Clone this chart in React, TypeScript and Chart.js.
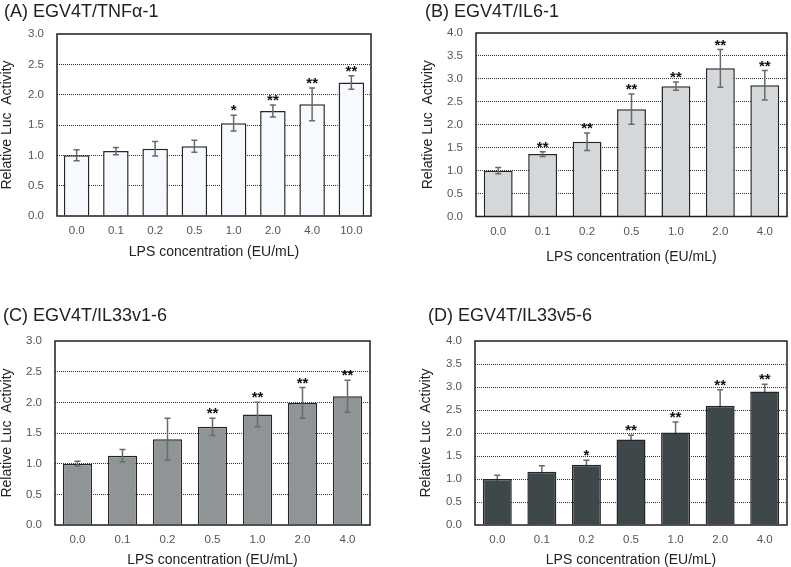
import React, { useEffect, useRef } from "react";
import { Chart, registerables } from "chart.js";

Chart.register(...registerables);

// ---------- data ----------
const doseLabelsA = ["0.0", "0.1", "0.2", "0.5", "1.0", "2.0", "4.0", "10.0"];
const doseLabels = ["0.0", "0.1", "0.2", "0.5", "1.0", "2.0", "4.0"];

const tnfMean = [1.0, 1.07, 1.11, 1.15, 1.53, 1.73, 1.84, 2.2];
const tnfErr = [0.09, 0.06, 0.12, 0.1, 0.13, 0.1, 0.27, 0.11];
const tnfSig = ["", "", "", "", "*", "**", "**", "**"];

const il6Mean = [1.0, 1.36, 1.63, 2.34, 2.84, 3.23, 2.86];
const il6Err = [0.07, 0.05, 0.19, 0.33, 0.09, 0.41, 0.32];
const il6Sig = ["", "**", "**", "**", "**", "**", "**"];

const il33v1Mean = [1.0, 1.13, 1.4, 1.6, 1.8, 1.99, 2.1];
const il33v1Err = [0.04, 0.1, 0.34, 0.14, 0.2, 0.25, 0.26];
const il33v1Sig = ["", "", "", "**", "**", "**", "**"];

const il33v5Mean = [1.0, 1.16, 1.31, 1.86, 2.01, 2.59, 2.9];
const il33v5Err = [0.08, 0.13, 0.1, 0.09, 0.23, 0.35, 0.16];
const il33v5Sig = ["", "", "*", "**", "**", "**", "**"];

const yMaxA = 3;
const yMaxB = 4;
const yMaxC = 3;
const yMaxD = 4;

const xAxisTitle = "LPS concentration (EU/mL)";
const yAxisTitle = "Relative Luc  Activity";

// ---------- layout / style ----------
const FONT = "'Liberation Sans', Arial, Helvetica, sans-serif";

const panels = [
  {
    key: "A", title: "(A) EGV4T/TNF\u03b1-1", labels: doseLabelsA, mean: tnfMean, err: tnfErr, sig: tnfSig,
    yMax: yMaxA, color: "#f6f9fd",
    box: { x: 0, y: 0, w: 395, h: 280 }, area: { l: 57, t: 34, r: 371, b: 216 },
    titlePos: { x: 4, y: 2 }, yTitleX: 7, xTitleY: 252, errBehind: false,
  },
  {
    key: "B", title: "(B) EGV4T/IL6-1", labels: doseLabels, mean: il6Mean, err: il6Err, sig: il6Sig,
    yMax: yMaxB, color: "#d4d8da",
    box: { x: 395, y: 0, w: 396, h: 280 }, area: { l: 476, t: 33, r: 787, b: 216.5 },
    titlePos: { x: 425, y: 2 }, yTitleX: 33, xTitleY: 257, errBehind: false,
  },
  {
    key: "C", title: "(C) EGV4T/IL33v1-6", labels: doseLabels, mean: il33v1Mean, err: il33v1Err, sig: il33v1Sig,
    yMax: yMaxC, color: "#8f9597",
    box: { x: 0, y: 280, w: 395, h: 287 }, area: { l: 55, t: 341, r: 370, b: 525 },
    titlePos: { x: 3, y: 306 }, yTitleX: 7, xTitleY: 560, errBehind: false,
  },
  {
    key: "D", title: "(D) EGV4T/IL33v5-6", labels: doseLabels, mean: il33v5Mean, err: il33v5Err, sig: il33v5Sig,
    yMax: yMaxD, color: "#3e474a",
    box: { x: 395, y: 280, w: 396, h: 287 }, area: { l: 475, t: 341, r: 787, b: 525 },
    titlePos: { x: 428, y: 306 }, yTitleX: 31, xTitleY: 560, errBehind: true,
  },
];

function Panel({ p }: { p: any }) {
  const ref = useRef<HTMLCanvasElement>(null);

  useEffect(() => {
    const cvs = ref.current;
    if (!cvs) return;
    const yAxisW = p.area.l - p.box.x;
    const xAxisH = p.box.y + p.box.h - p.area.b;
    const titleLH = 14 * 1.2;

    const drawErr = (chart: any) => {
      const ctx = chart.ctx;
      const meta = chart.getDatasetMeta(0);
      const ys = chart.scales.y;
      ctx.save();
      ctx.strokeStyle = "#6a6a6a";
      ctx.lineWidth = 1.5;
      meta.data.forEach((el: any, i: number) => {
        const x = el.x;
        const yTop = ys.getPixelForValue(p.mean[i] + p.err[i]);
        const yBot = ys.getPixelForValue(p.mean[i] - p.err[i]);
        ctx.beginPath();
        ctx.moveTo(x, yTop);
        ctx.lineTo(x, yBot);
        ctx.moveTo(x - 3, yTop);
        ctx.lineTo(x + 3, yTop);
        ctx.moveTo(x - 3, yBot);
        ctx.lineTo(x + 3, yBot);
        ctx.stroke();
      });
      ctx.restore();
    };

    const plugin: any = {
      id: "errbox" + p.key,
      afterDraw: (chart: any) => {
        const ctx = chart.ctx;
        const a = chart.chartArea;
        const meta = chart.getDatasetMeta(0);
        const ys = chart.scales.y;
        ctx.save();
        ctx.fillStyle = "#111";
        ctx.font = "bold 15px " + FONT;
        ctx.textAlign = "center";
        ctx.textBaseline = "alphabetic";
        meta.data.forEach((el: any, i: number) => {
          if (!p.sig[i]) return;
          const yTop = ys.getPixelForValue(p.mean[i] + p.err[i]);
          ctx.fillText(p.sig[i], el.x, yTop);
        });
        ctx.strokeStyle = "#1e1e1e";
        ctx.lineWidth = 1.5;
        ctx.strokeRect(a.left, a.top, a.right - a.left, a.bottom - a.top);
        ctx.restore();
      },
    };
    if (p.errBehind) plugin.beforeDatasetsDraw = drawErr;
    else plugin.afterDatasetsDraw = drawErr;

    const chart = new Chart(cvs, {
      type: "bar",
      data: {
        labels: p.labels,
        datasets: [
          {
            data: p.mean,
            backgroundColor: p.color,
            borderColor: "#262626",
            borderWidth: 1.5,
            categoryPercentage: 1,
            barPercentage: 0.65,
          },
        ],
      },
      options: {
        responsive: false,
        animation: false,
        devicePixelRatio: 1,
        layout: {
          padding: { left: 0, top: p.area.t - p.box.y, right: p.box.x + p.box.w - p.area.r, bottom: 0 },
        },
        plugins: {
          legend: { display: false },
          tooltip: { enabled: false },
          title: { display: false },
        },
        scales: {
          x: {
            type: "category",
            offset: true,
            grid: { display: false, drawTicks: false },
            border: { display: false },
            ticks: {
              color: "#555",
              font: { family: FONT, size: 11.5 },
              padding: 8,
              maxRotation: 0,
              autoSkip: false,
            },
            title: {
              display: true,
              text: xAxisTitle,
              color: "#222",
              font: { family: FONT, size: 14, lineHeight: 1.2 },
              padding: { top: 0, bottom: p.box.h - (p.xTitleY - p.box.y) - titleLH / 2 },
            },
            afterFit: (s: any) => {
              s.height = xAxisH;
            },
          },
          y: {
            min: 0,
            max: p.yMax,
            grid: {
              drawTicks: false,
              lineWidth: 1,
              color: (c: any) =>
                c.tick && (c.tick.value === 0 || c.tick.value === p.yMax) ? "rgba(0,0,0,0)" : "#333",
            },
            border: { display: false, dash: [1, 1] },
            ticks: {
              stepSize: 0.5,
              color: "#555",
              font: { family: FONT, size: 11.5 },
              padding: 13,
              callback: (v: any) => Number(v).toFixed(1),
            },
            title: {
              display: true,
              text: yAxisTitle,
              color: "#222",
              font: { family: FONT, size: 14, lineHeight: 1.2 },
              padding: { top: p.yTitleX - titleLH / 2, bottom: 0 },
            },
            afterFit: (s: any) => {
              s.width = yAxisW;
            },
          },
        },
      } as any,
      plugins: [plugin],
    });
    return () => chart.destroy();
  }, [p]);

  return (
    <>
      <canvas
        ref={ref}
        width={p.box.w}
        height={p.box.h}
        style={{ position: "absolute", left: p.box.x, top: p.box.y, width: p.box.w, height: p.box.h }}
      />
      <div
        style={{
          position: "absolute",
          left: p.titlePos.x,
          top: p.titlePos.y,
          fontFamily: FONT,
          fontSize: 18,
          lineHeight: "18px",
          color: "#222",
          whiteSpace: "nowrap",
        }}
      >
        {p.title}
      </div>
    </>
  );
}

export default function App() {
  return (
    <div style={{ position: "absolute", left: 0, top: 0, width: 791, height: 567, background: "#fff", overflow: "hidden" }}>
      {panels.map((p) => (
        <Panel key={p.key} p={p} />
      ))}
    </div>
  );
}
